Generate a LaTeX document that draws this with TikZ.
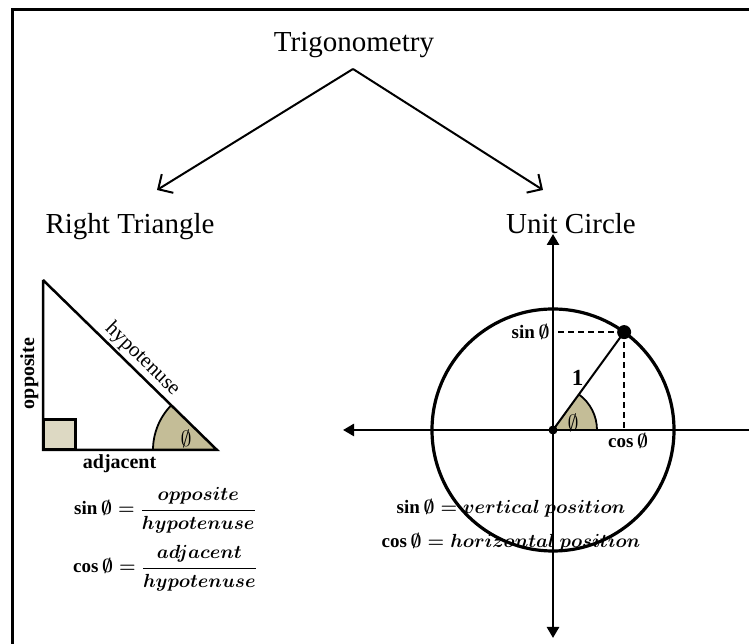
\RequirePackage{fix-cm}
\documentclass[tikz,border=0pt]{standalone}
\usepackage{amsmath}
\usepackage{fontspec}
\setmainfont{Liberation Serif}
\usetikzlibrary{arrows.meta}
\definecolor{tanlight}{HTML}{DDD9C3}
\definecolor{tandark}{HTML}{C4BD97}

\begin{document}
\begin{tikzpicture}[
    x=1pt, y=1pt,
    head/.style={font=\fontsize{29}{34}\selectfont},
    lbl/.style={font=\fontsize{20}{24}\selectfont\bfseries},
    hyp/.style={font=\fontsize{21}{25}\selectfont},
    eq/.style={font=\fontsize{19}{23}\selectfont\boldmath},
    ang/.style={font=\fontsize{22}{26}\selectfont},
    branch/.style={-{Straight Barb[length=11pt,width=22pt]}, line width=2pt},
    axis/.style={{Triangle[length=11pt,width=12pt]}-{Triangle[length=11pt,width=12pt]}, line width=2.6pt},
    edge/.style={line width=2.5pt},
    arcline/.style={line width=1.8pt}
  ]
    \useasboundingbox (0,0) rectangle (749,644);
    \clip (0,0) rectangle (749,644);
    \draw[line width=3pt] (12,-20) -- (12,634) -- (770,634);

    \node[head, anchor=base] (trig) at (354,592) {Trigonometry};
    \node[head, anchor=base] (rt) at (130,410) {Right Triangle};
    \node[head, anchor=base] (uc) at (571,410) {Unit Circle};
    \coordinate (apex) at (353,575);
    \coordinate (rtend) at (157,454);
    \coordinate (ucend) at (543,454);
    \draw[branch] (apex) -- (rtend);
    \draw[branch] (apex) -- (ucend);

    \coordinate (A) at (43,364);
    \coordinate (B) at (43,194);
    \coordinate (C) at (217,194);
    \fill[tandark] (C) -- ++(180:64) arc[start angle=180, end angle=135.67, radius=64] -- cycle;
    \draw[arcline] (C) ++(180:64) arc[start angle=180, end angle=135.67, radius=64];
    \filldraw[fill=tanlight, line width=3pt] (B) rectangle ++(32,30);
    \draw[edge] (A) -- node[lbl, rotate=90, above, pos=0.55] (opp) {opposite} (B)
      -- node[lbl, below, pos=0.44] (adj) {adjacent} (C)
      -- node[hyp, sloped, above, pos=0.48, inner sep=2pt] (hyp) {hypotenuse} (A);
    \node[ang] (phi1) at (186,205) {$\emptyset$};

    \node[eq] (sinrt) at (165,134) {$\sin\emptyset=\dfrac{opposite}{hypotenuse}$};
    \node[eq] (cosrt) at (165,76) {$\cos\emptyset=\dfrac{adjacent}{hypotenuse}$};

    \coordinate (O) at (553,214);
    \path (O) ++(54:121) coordinate (P);
    \coordinate (xl) at (343,214);
    \coordinate (xr) at (762,214);
    \coordinate (yb) at (553,6);
    \coordinate (yt) at (553,410);
    \fill[tandark] (O) -- ++(0:44) arc[start angle=0, end angle=54, radius=44] -- cycle;
    \draw[arcline] (O) ++(0:44) arc[start angle=0, end angle=54, radius=44];
    \draw[line width=3.2pt] (O) circle[radius=121];
    \draw[axis] (xl) -- (xr);
    \draw[axis] (yb) -- (yt);
    \draw[dash pattern=on 6pt off 4pt, line width=1.5pt] (P) -- (O |- P);
    \draw[dash pattern=on 6pt off 4pt, line width=1.5pt] (P) -- (P |- O);
    \draw[line width=2pt] (O) -- node[lbl, left, pos=0.53, xshift=-3pt, font=\fontsize{23}{27}\selectfont\bfseries] (one) {1} (P);
    \fill (O) circle[radius=4.5];
    \fill (P) circle[radius=7];
    \node[eq, left] (sinlbl) at (O |- P) {$\sin\emptyset$};
    \node[eq, below, xshift=4pt] (coslbl) at (P |- O) {$\cos\emptyset$};
    \node[ang] (phi2) at (573,221) {$\emptyset$};

    \node[eq] (sinuc) at (511,136) {$\sin\emptyset=vertical\ position$};
    \node[eq] (cosuc) at (511,102) {$\cos\emptyset=horizontal\ position$};
  \end{tikzpicture}
\end{document}
